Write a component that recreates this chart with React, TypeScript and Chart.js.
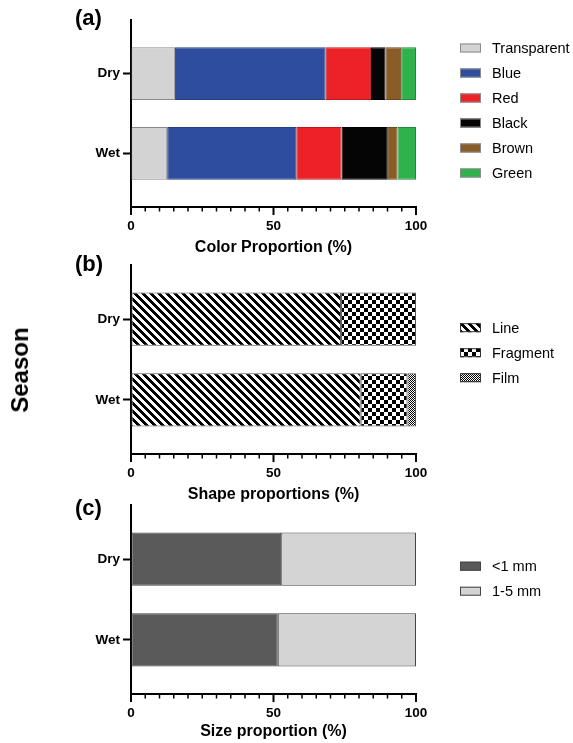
import React, { useEffect, useRef } from 'react';
import { Chart, registerables } from 'chart.js';

Chart.register(...registerables);

const FONT = "'Liberation Sans', Arial, Helvetica, sans-serif";
Chart.defaults.font.family = FONT;
Chart.defaults.color = '#000';

// Categories (y axis) and x tick labels
const seasons = ['Dry', 'Wet'];
const xMajorTicks = [0, 50, 100];

// (a) Color proportion (%) — [Dry, Wet]
const colorNames = ['Transparent', 'Blue', 'Red', 'Black', 'Brown', 'Green'];
const transparentPct = [15.4, 12.7];
const bluePct = [52.9, 45.3];
const redPct = [15.9, 15.9];
const blackPct = [5.1, 16.2];
const brownPct = [5.5, 3.4];
const greenPct = [5.2, 6.5];

// (b) Shape proportions (%) — [Dry, Wet]
const shapeNames = ['Line', 'Fragment', 'Film'];
const linePct = [73.7, 80.6];
const fragmentPct = [26.3, 16.4];
const filmPct = [0, 3.0];

// (c) Size proportion (%) — [Dry, Wet]
const sizeNames = ['<1 mm', '1-5 mm'];
const under1mmPct = [52.7, 51.5];
const from1to5mmPct = [47.3, 48.5];

const W = 573;
const H = 743;
const AREA_LEFT = 131;
const AREA_RIGHT = 416;

const toPoints = (vals: number[]) => vals.map((v, i) => ({ x: v, y: i }));

function makePattern(ctx: CanvasRenderingContext2D, size: number, isBlack: (x: number, y: number) => boolean) {
  const c = document.createElement('canvas');
  c.width = size;
  c.height = size;
  const g = c.getContext('2d')!;
  const img = g.createImageData(size, size);
  for (let y = 0; y < size; y++) {
    for (let x = 0; x < size; x++) {
      const v = isBlack(x, y) ? 0 : 255;
      const k = (y * size + x) * 4;
      img.data[k] = v;
      img.data[k + 1] = v;
      img.data[k + 2] = v;
      img.data[k + 3] = 255;
    }
  }
  g.putImageData(img, 0, 0);
  return ctx.createPattern(c, 'repeat');
}

const sideLegend = {
  id: 'sideLegend',
  afterDraw(chart: any, _args: any, opts: any) {
    const o = opts && opts.x !== undefined ? opts : chart.options.plugins.sideLegend;
    const ctx = chart.ctx;
    ctx.save();
    chart.data.datasets.forEach((ds: any, i: number) => {
      const cy = o.y + i * o.gap;
      ctx.fillStyle = ds.backgroundColor;
      ctx.fillRect(o.x, cy - o.boxH / 2, o.boxW, o.boxH);
      ctx.lineWidth = 1;
      ctx.strokeStyle = o.boxBorder;
      ctx.strokeRect(o.x + 0.5, cy - o.boxH / 2 + 0.5, o.boxW - 1, o.boxH - 1);
      ctx.fillStyle = '#000';
      ctx.font = `${o.fontSize}px ${FONT}`;
      ctx.textAlign = 'left';
      ctx.textBaseline = 'middle';
      ctx.fillText(ds.label, o.textX, cy + 1);
    });
    ctx.restore();
  },
};

const xTicks = {
  id: 'xTicks',
  afterDraw(chart: any) {
    const sc = chart.scales.x;
    const ctx = chart.ctx;
    ctx.save();
    ctx.fillStyle = '#000';
    sc.ticks.forEach((t: any) => {
      const px = sc.getPixelForValue(t.value);
      const major = xMajorTicks.includes(t.value);
      const w = major ? 2 : 1.5;
      ctx.fillRect(px - w / 2, sc.top, w, major ? 8 : 4.5);
    });
    ctx.restore();
  },
};

function makeConfig(p: {
  datasets: any[];
  top: number;
  axisBottom: number;
  titleCenter: number;
  title: string;
  legendY: number;
  borderBox: string;
}) {
  const axisBoxBottom = p.titleCenter + 9.6;
  return {
    type: 'bar',
    data: { datasets: p.datasets },
    plugins: [sideLegend, xTicks],
    options: {
      indexAxis: 'y',
      responsive: false,
      animation: false,
      events: [],
      layout: {
        padding: { top: p.top, left: 0, right: W - AREA_RIGHT, bottom: H - axisBoxBottom },
      },
      plugins: {
        legend: { display: false },
        tooltip: { enabled: false },
        sideLegend: {
          x: 460,
          y: p.legendY,
          gap: 25,
          boxW: 21,
          boxH: 9,
          textX: 492,
          fontSize: 14.5,
          boxBorder: p.borderBox,
        },
      },
      datasets: {
        bar: {
          categoryPercentage: 1,
          barPercentage: 0.66,
          borderSkipped: false,
          borderWidth: 1,
        },
      },
      scales: {
        x: {
          type: 'linear',
          stacked: true,
          min: 0,
          max: 100,
          afterFit: (s: any) => {
            s.height = axisBoxBottom - p.axisBottom;
          },
          border: { display: true, color: '#000', width: 2 },
          grid: {
            display: true,
            drawOnChartArea: false,
            drawTicks: true,
            tickLength: 7,
            tickColor: 'rgba(0,0,0,0)',
          },
          ticks: {
            stepSize: 5,
            autoSkip: false,
            maxRotation: 0,
            minRotation: 0,
            padding: 4,
            color: '#000',
            font: { size: 13.5, weight: 'bold' },
            callback: (v: number) => (xMajorTicks.includes(v) ? String(v) : ''),
          },
          title: {
            display: true,
            text: p.title,
            color: '#000',
            font: { size: 16, weight: 'bold', lineHeight: 1.2 },
            padding: 0,
          },
        },
        y: {
          type: 'linear',
          stacked: true,
          reverse: true,
          offset: false,
          min: -0.67,
          max: 1.67,
          afterFit: (s: any) => {
            s.width = AREA_LEFT;
          },
          afterBuildTicks: (s: any) => {
            s.ticks = seasons.map((_, i) => ({ value: i }));
          },
          border: { display: true, color: '#000', width: 2 },
          grid: {
            display: true,
            offset: false,
            drawOnChartArea: false,
            drawTicks: true,
            tickLength: 8,
            tickWidth: 2,
            tickColor: '#000',
          },
          ticks: {
            padding: 3,
            color: '#000',
            font: { size: 13.5, weight: 'bold' },
            callback: (v: number) => seasons[v] ?? '',
          },
        },
      },
    },
  } as any;
}

export default function App() {
  const refA = useRef<HTMLCanvasElement>(null);
  const refB = useRef<HTMLCanvasElement>(null);
  const refC = useRef<HTMLCanvasElement>(null);

  useEffect(() => {
    const charts: Chart[] = [];

    // (a) colors
    const colorFills = ['#d3d3d3', '#2e4d9e', '#ec2227', '#050505', '#8a5d26', '#2fb24b'];
    const colorBorders = ['#8a8a8a', '#24407f', '#b71b1f', '#000000', '#6b481d', '#24883a'];
    const colorSeries = [transparentPct, bluePct, redPct, blackPct, brownPct, greenPct];
    const dsA = colorNames.map((name, k) => ({
      label: name,
      data: toPoints(colorSeries[k]),
      backgroundColor: colorFills[k],
      borderColor: colorBorders[k],
    }));
    charts.push(
      new Chart(
        refA.current!,
        makeConfig({
          datasets: dsA,
          top: 20,
          axisBottom: 207,
          titleCenter: 248,
          title: 'Color Proportion (%)',
          legendY: 48,
          borderBox: '#8a8a8a',
        })
      )
    );

    // (b) shapes with patterns
    const ctxB = refB.current!.getContext('2d')!;
    const stripes = makePattern(ctxB, 8, (x, y) => (((x - y) % 8) + 8) % 8 < 4);
    const checker = makePattern(ctxB, 8, (x, y) => (Math.floor(x / 4) + Math.floor(y / 4)) % 2 === 0);
    const film = makePattern(ctxB, 4, (x, y) => (x + y) % 2 === 0 || (x % 4 === 0 && y % 4 === 2));
    const shapeFills = [stripes, checker, film];
    const shapeSeries = [linePct, fragmentPct, filmPct];
    const dsB = shapeNames.map((name, k) => ({
      label: name,
      data: toPoints(shapeSeries[k]),
      backgroundColor: shapeFills[k],
      borderColor: '#555555',
    }));
    charts.push(
      new Chart(
        refB.current!,
        makeConfig({
          datasets: dsB,
          top: 265,
          axisBottom: 454,
          titleCenter: 495,
          title: 'Shape proportions (%)',
          legendY: 327.7,
          borderBox: '#333333',
        })
      )
    );

    // (c) sizes
    const sizeFills = ['#5a5a5a', '#d4d4d4'];
    const sizeSeries = [under1mmPct, from1to5mmPct];
    const dsC = sizeNames.map((name, k) => ({
      label: name,
      data: toPoints(sizeSeries[k]),
      backgroundColor: sizeFills[k],
      borderColor: '#444444',
    }));
    charts.push(
      new Chart(
        refC.current!,
        makeConfig({
          datasets: dsC,
          top: 505,
          axisBottom: 694,
          titleCenter: 731.5,
          title: 'Size proportion (%)',
          legendY: 566.2,
          borderBox: '#444444',
        })
      )
    );

    return () => charts.forEach((c) => c.destroy());
  }, []);

  const canvasStyle: React.CSSProperties = { position: 'absolute', left: 0, top: 0 };
  const letterStyle = (top: number): React.CSSProperties => ({
    position: 'absolute',
    left: 75,
    top,
    fontFamily: FONT,
    fontWeight: 'bold',
    fontSize: 22,
    lineHeight: '22px',
    color: '#000',
    whiteSpace: 'nowrap',
  });

  return (
    <div style={{ position: 'absolute', left: 0, top: 0, width: W, height: H, background: '#fff', overflow: 'hidden' }}>
      <canvas ref={refA} width={W} height={H} style={canvasStyle} />
      <canvas ref={refB} width={W} height={H} style={canvasStyle} />
      <canvas ref={refC} width={W} height={H} style={canvasStyle} />
      <div style={letterStyle(7)}>(a)</div>
      <div style={letterStyle(253)}>(b)</div>
      <div style={letterStyle(497)}>(c)</div>
      <div
        style={{
          position: 'absolute',
          left: 20,
          top: 370,
          transform: 'translate(-50%, -50%) rotate(-90deg)',
          fontFamily: FONT,
          fontWeight: 'bold',
          fontSize: 24,
          color: '#000',
          whiteSpace: 'nowrap',
        }}
      >
        Season
      </div>
    </div>
  );
}
